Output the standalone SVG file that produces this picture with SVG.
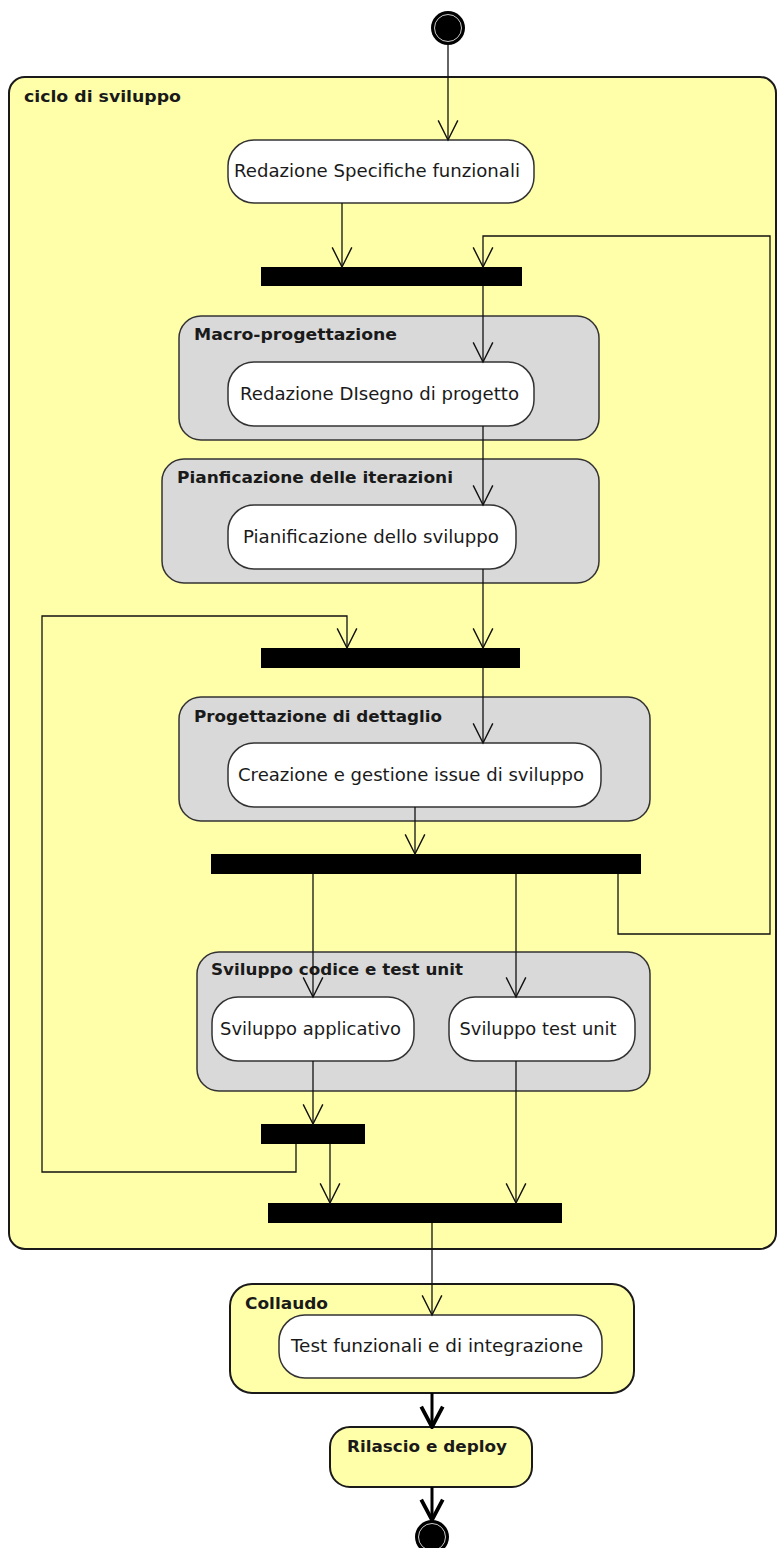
<svg xmlns="http://www.w3.org/2000/svg" width="777" height="1548" viewBox="0 0 777 1548">
<style>
.bg{fill:#ffffff}
.outer{fill:#ffffaa;stroke:#1a1a1a;stroke-width:2}
.grp{fill:#d9d9d9;stroke:#333333;stroke-width:1.5}
.ygrp{fill:#ffffaa;stroke:#1a1a1a;stroke-width:2}
.node{fill:#ffffff;stroke:#333333;stroke-width:1.5}
.bar{fill:#000000}
.t{font-family:"DejaVu Sans","Liberation Sans",sans-serif;font-size:17.5px;fill:#1a1a1a;text-anchor:middle}
.h{font-family:"DejaVu Sans","Liberation Sans",sans-serif;font-size:16px;font-weight:bold;fill:#1a1a1a}
.c{fill:none;stroke:#111111;stroke-width:1.3}
.cb{fill:none;stroke:#000000;stroke-width:3}
</style>
<defs>
<marker id="arr" markerUnits="userSpaceOnUse" markerWidth="24" markerHeight="24" viewBox="-20 -11 22 22" refX="0" refY="0" orient="auto">
<path d="M-18,-9 L0,0 L-18,9" fill="none" stroke="#111111" stroke-width="1.3"/>
</marker>
<marker id="arrb" markerUnits="userSpaceOnUse" markerWidth="26" markerHeight="28" viewBox="-22 -13 24 26" refX="0" refY="0" orient="auto">
<path d="M-19,-10 L0,0 L-19,10" fill="none" stroke="#000000" stroke-width="3.5" stroke-linejoin="miter"/>
</marker>
</defs>
<rect class="bg" x="0" y="0" width="777" height="1548"/>

<g id="start">
<circle cx="448" cy="28" r="17" fill="#000000"/>
<circle cx="448" cy="28" r="13.5" fill="none" stroke="#ffffff" stroke-width="0.8"/>
</g>

<g id="ciclo-di-sviluppo">
<rect class="outer" x="9" y="77" width="767" height="1172" rx="16" ry="16"/>
<text class="h" x="24" y="102" textLength="157" lengthAdjust="spacingAndGlyphs">ciclo di sviluppo</text>
</g>

<g id="redazione-specifiche">
<rect class="node" x="228" y="140" width="306" height="63" rx="26" ry="26"/>
<text class="t" x="377" y="177" textLength="286" lengthAdjust="spacingAndGlyphs">Redazione Specifiche funzionali</text>
</g>

<g id="fork1"><rect class="bar" x="261" y="267" width="261" height="19"/></g>

<g id="macro-progettazione">
<rect class="grp" x="179" y="316" width="420" height="124" rx="22" ry="22"/>
<text class="h" x="194" y="340" textLength="203" lengthAdjust="spacingAndGlyphs">Macro-progettazione</text>
</g>
<g id="redazione-disegno">
<rect class="node" x="228" y="362" width="306" height="64" rx="26" ry="26"/>
<text class="t" x="379.5" y="400" textLength="279" lengthAdjust="spacingAndGlyphs">Redazione DIsegno di progetto</text>
</g>

<g id="pianificazione-iterazioni">
<rect class="grp" x="162" y="459" width="437" height="124" rx="22" ry="22"/>
<text class="h" x="177" y="483" textLength="276" lengthAdjust="spacingAndGlyphs">Pianficazione delle iterazioni</text>
</g>
<g id="pianificazione-sviluppo">
<rect class="node" x="228" y="505" width="288" height="64" rx="26" ry="26"/>
<text class="t" x="371" y="543" textLength="256" lengthAdjust="spacingAndGlyphs">Pianificazione dello sviluppo</text>
</g>

<g id="fork2"><rect class="bar" x="261" y="648" width="259" height="20"/></g>

<g id="progettazione-dettaglio">
<rect class="grp" x="179" y="697" width="471" height="124" rx="22" ry="22"/>
<text class="h" x="194" y="722" textLength="248" lengthAdjust="spacingAndGlyphs">Progettazione di dettaglio</text>
</g>
<g id="creazione-issue">
<rect class="node" x="228" y="743" width="373" height="64" rx="26" ry="26"/>
<text class="t" x="411" y="781" textLength="346" lengthAdjust="spacingAndGlyphs">Creazione e gestione issue di sviluppo</text>
</g>

<g id="fork3"><rect class="bar" x="211" y="854" width="430" height="20"/></g>

<g id="sviluppo-codice">
<rect class="grp" x="197" y="952" width="453" height="139" rx="22" ry="22"/>
<text class="h" x="211" y="975" textLength="252" lengthAdjust="spacingAndGlyphs">Sviluppo codice e test unit</text>
</g>
<g id="sviluppo-applicativo">
<rect class="node" x="212" y="997" width="202" height="64" rx="26" ry="26"/>
<text class="t" x="310.5" y="1035" textLength="181" lengthAdjust="spacingAndGlyphs">Sviluppo applicativo</text>
</g>
<g id="sviluppo-test-unit">
<rect class="node" x="449" y="997" width="186" height="64" rx="26" ry="26"/>
<text class="t" x="538" y="1035" textLength="157" lengthAdjust="spacingAndGlyphs">Sviluppo test unit</text>
</g>

<g id="join-small"><rect class="bar" x="261" y="1124" width="104" height="20"/></g>
<g id="join-final"><rect class="bar" x="268" y="1203" width="294" height="20"/></g>

<g id="collaudo">
<rect class="ygrp" x="230" y="1284" width="404" height="109" rx="22" ry="22"/>
<text class="h" x="245" y="1309" textLength="83" lengthAdjust="spacingAndGlyphs">Collaudo</text>
</g>
<g id="test-funzionali">
<rect class="node" x="279" y="1315" width="323" height="63" rx="26" ry="26"/>
<text class="t" x="437" y="1352" textLength="292" lengthAdjust="spacingAndGlyphs">Test funzionali e di integrazione</text>
</g>

<g id="rilascio">
<rect class="ygrp" x="330" y="1427" width="202" height="60" rx="20" ry="20"/>
<text class="h" x="347" y="1452" textLength="160" lengthAdjust="spacingAndGlyphs">Rilascio e deploy</text>
</g>

<g id="end">
<circle cx="432" cy="1537" r="17" fill="#000000"/>
<circle cx="432" cy="1537" r="13.5" fill="none" stroke="#ffffff" stroke-width="0.8"/>
</g>

<g id="connectors">
<path class="c" d="M448,45 L448,140" marker-end="url(#arr)"/>
<path class="c" d="M342,203 L342,267" marker-end="url(#arr)"/>
<path class="c" d="M618,874 L618,934 L770,934 L770,236 L483,236 L483,267" marker-end="url(#arr)"/>
<path class="c" d="M483,286 L483,362" marker-end="url(#arr)"/>
<path class="c" d="M483,426 L483,505" marker-end="url(#arr)"/>
<path class="c" d="M483,569 L483,648" marker-end="url(#arr)"/>
<path class="c" d="M296,1144 L296,1172 L42,1172 L42,616 L347,616 L347,648" marker-end="url(#arr)"/>
<path class="c" d="M483,668 L483,743" marker-end="url(#arr)"/>
<path class="c" d="M415,807 L415,854" marker-end="url(#arr)"/>
<path class="c" d="M313,874 L313,997" marker-end="url(#arr)"/>
<path class="c" d="M516,874 L516,997" marker-end="url(#arr)"/>
<path class="c" d="M313,1061 L313,1124" marker-end="url(#arr)"/>
<path class="c" d="M330,1144 L330,1203" marker-end="url(#arr)"/>
<path class="c" d="M516,1061 L516,1203" marker-end="url(#arr)"/>
<path class="c" d="M432,1223 L432,1315" marker-end="url(#arr)"/>
<path class="cb" d="M432,1393 L432,1427" marker-end="url(#arrb)"/>
<path class="cb" d="M432,1487 L432,1520" marker-end="url(#arrb)"/>
</g>
</svg>
